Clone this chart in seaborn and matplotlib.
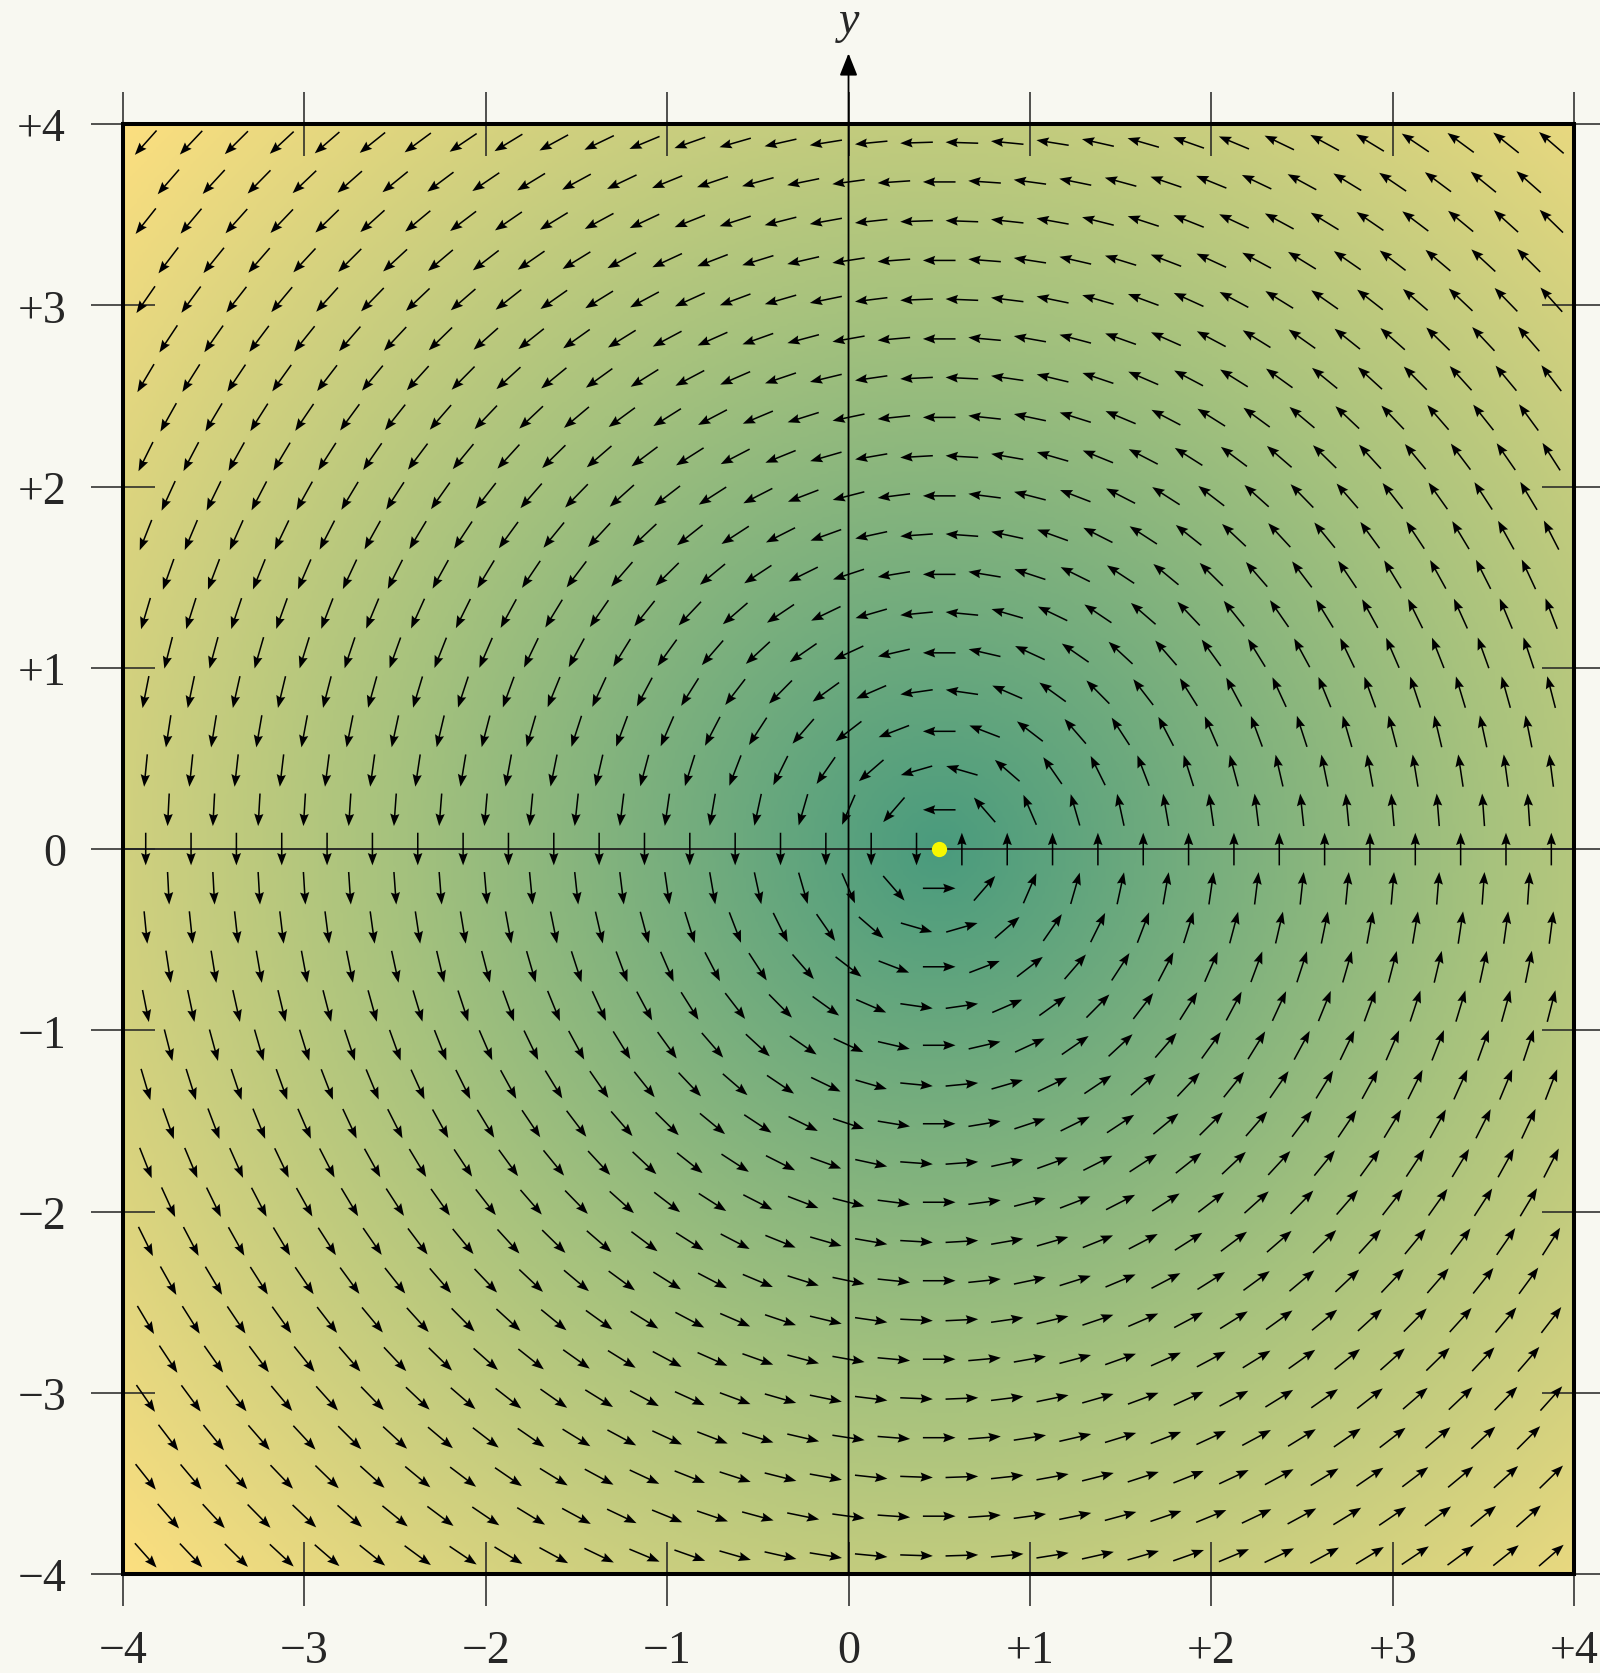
import numpy as np
import matplotlib
matplotlib.use("Agg")
import matplotlib.pyplot as plt
import seaborn as sns

# field: pure rotation around this point
center = (0.5, 0.0)
lattice_step = 0.25          # triangular lattice spacing
n_rows = 18                  # rows above / below the x axis
arrow_len = 0.18

x_ticks = [-4, -3, -2, -1, 0, 1, 2, 3, 4]
y_ticks = [-4, -3, -2, -1, 0, 1, 2, 3, 4]
tick_labels = ["\u22124", "\u22123", "\u22122", "\u22121", "0", "+1", "+2", "+3", "+4"]
bg_colors = ["#4a9b7e", "#a6c27d", "#fcdf80"]

sns.set_theme(style="white")
plt.rcParams['font.family'] = ['Liberation Serif', 'DejaVu Serif']
plt.rcParams['mathtext.fontset'] = 'stix'

fig = plt.figure(figsize=(16, 16.74), dpi=100, facecolor="#f8f8f1")
ax = fig.add_axes([0.0769, 0.0591, 0.90685, 0.8662])
ax.set_facecolor("#f8f8f1")

# background shading by distance from the centre
gx, gy = np.meshgrid(np.linspace(-4, 4, 500), np.linspace(-4, 4, 500))
dist = np.hypot(gx - center[0], gy - center[1])
cmap = sns.blend_palette(bg_colors, as_cmap=True)
ax.imshow(dist, extent=[-4, 4, -4, 4], origin="lower", cmap=cmap,
          vmin=0, vmax=dist.max(), interpolation="bilinear", zorder=0)

# lattice points (alternate rows shifted by half a step)
xs, ys = [], []
row_h = lattice_step * np.sqrt(3) / 2
for j in range(-n_rows, n_rows + 1):
    off = lattice_step / 2 if j % 2 == 0 else lattice_step
    row_x = np.arange(-4 + off, 4 - 1e-9, lattice_step)
    xs.extend(row_x)
    ys.extend([j * row_h] * len(row_x))
xs = np.array(xs)
ys = np.array(ys)

u = -(ys - center[1])
v = xs - center[0]
norm = np.hypot(u, v)
u = u / norm * arrow_len
v = v / norm * arrow_len

# axes through origin
ax.axhline(0, color="#222222", lw=1.3, zorder=1)
ax.annotate("", xy=(0, 4.39), xytext=(0, -4),
            arrowprops=dict(arrowstyle="-|>,head_length=0.4,head_width=0.16",
                            color="black", lw=1.3, mutation_scale=34,
                            shrinkA=0, shrinkB=0),
            annotation_clip=False, zorder=1)
ax.text(0, 4.57, "y", fontsize=33, style="italic", ha="center", va="center")

ax.quiver(xs, ys, u, v, angles="xy", scale_units="xy", scale=1, units="xy",
          pivot="mid", width=0.0085, headwidth=6, headlength=8,
          headaxislength=7, color="black", zorder=3)

ax.plot([center[0]], [center[1]], "o", color="#f7f700", markersize=11,
        markeredgewidth=0, zorder=4)

ax.set_xlim(-4, 4)
ax.set_ylim(-4, 4)
ax.set_aspect("auto")
ax.set_xticks(x_ticks)
ax.set_yticks(y_ticks)
ax.set_xticklabels(tick_labels)
ax.set_yticklabels(tick_labels)
ax.tick_params(axis="both", which="major", direction="inout", length=46,
               width=1.1, color="#222222", labelsize=33,
               top=True, right=True, bottom=True, left=True)
ax.tick_params(axis="x", pad=17)
ax.tick_params(axis="y", pad=18)
for s in ax.spines.values():
    s.set_linewidth(2.9)
    s.set_color("black")
    s.set_zorder(5)

fig.savefig("out.png", dpi=100, facecolor=fig.get_facecolor())
